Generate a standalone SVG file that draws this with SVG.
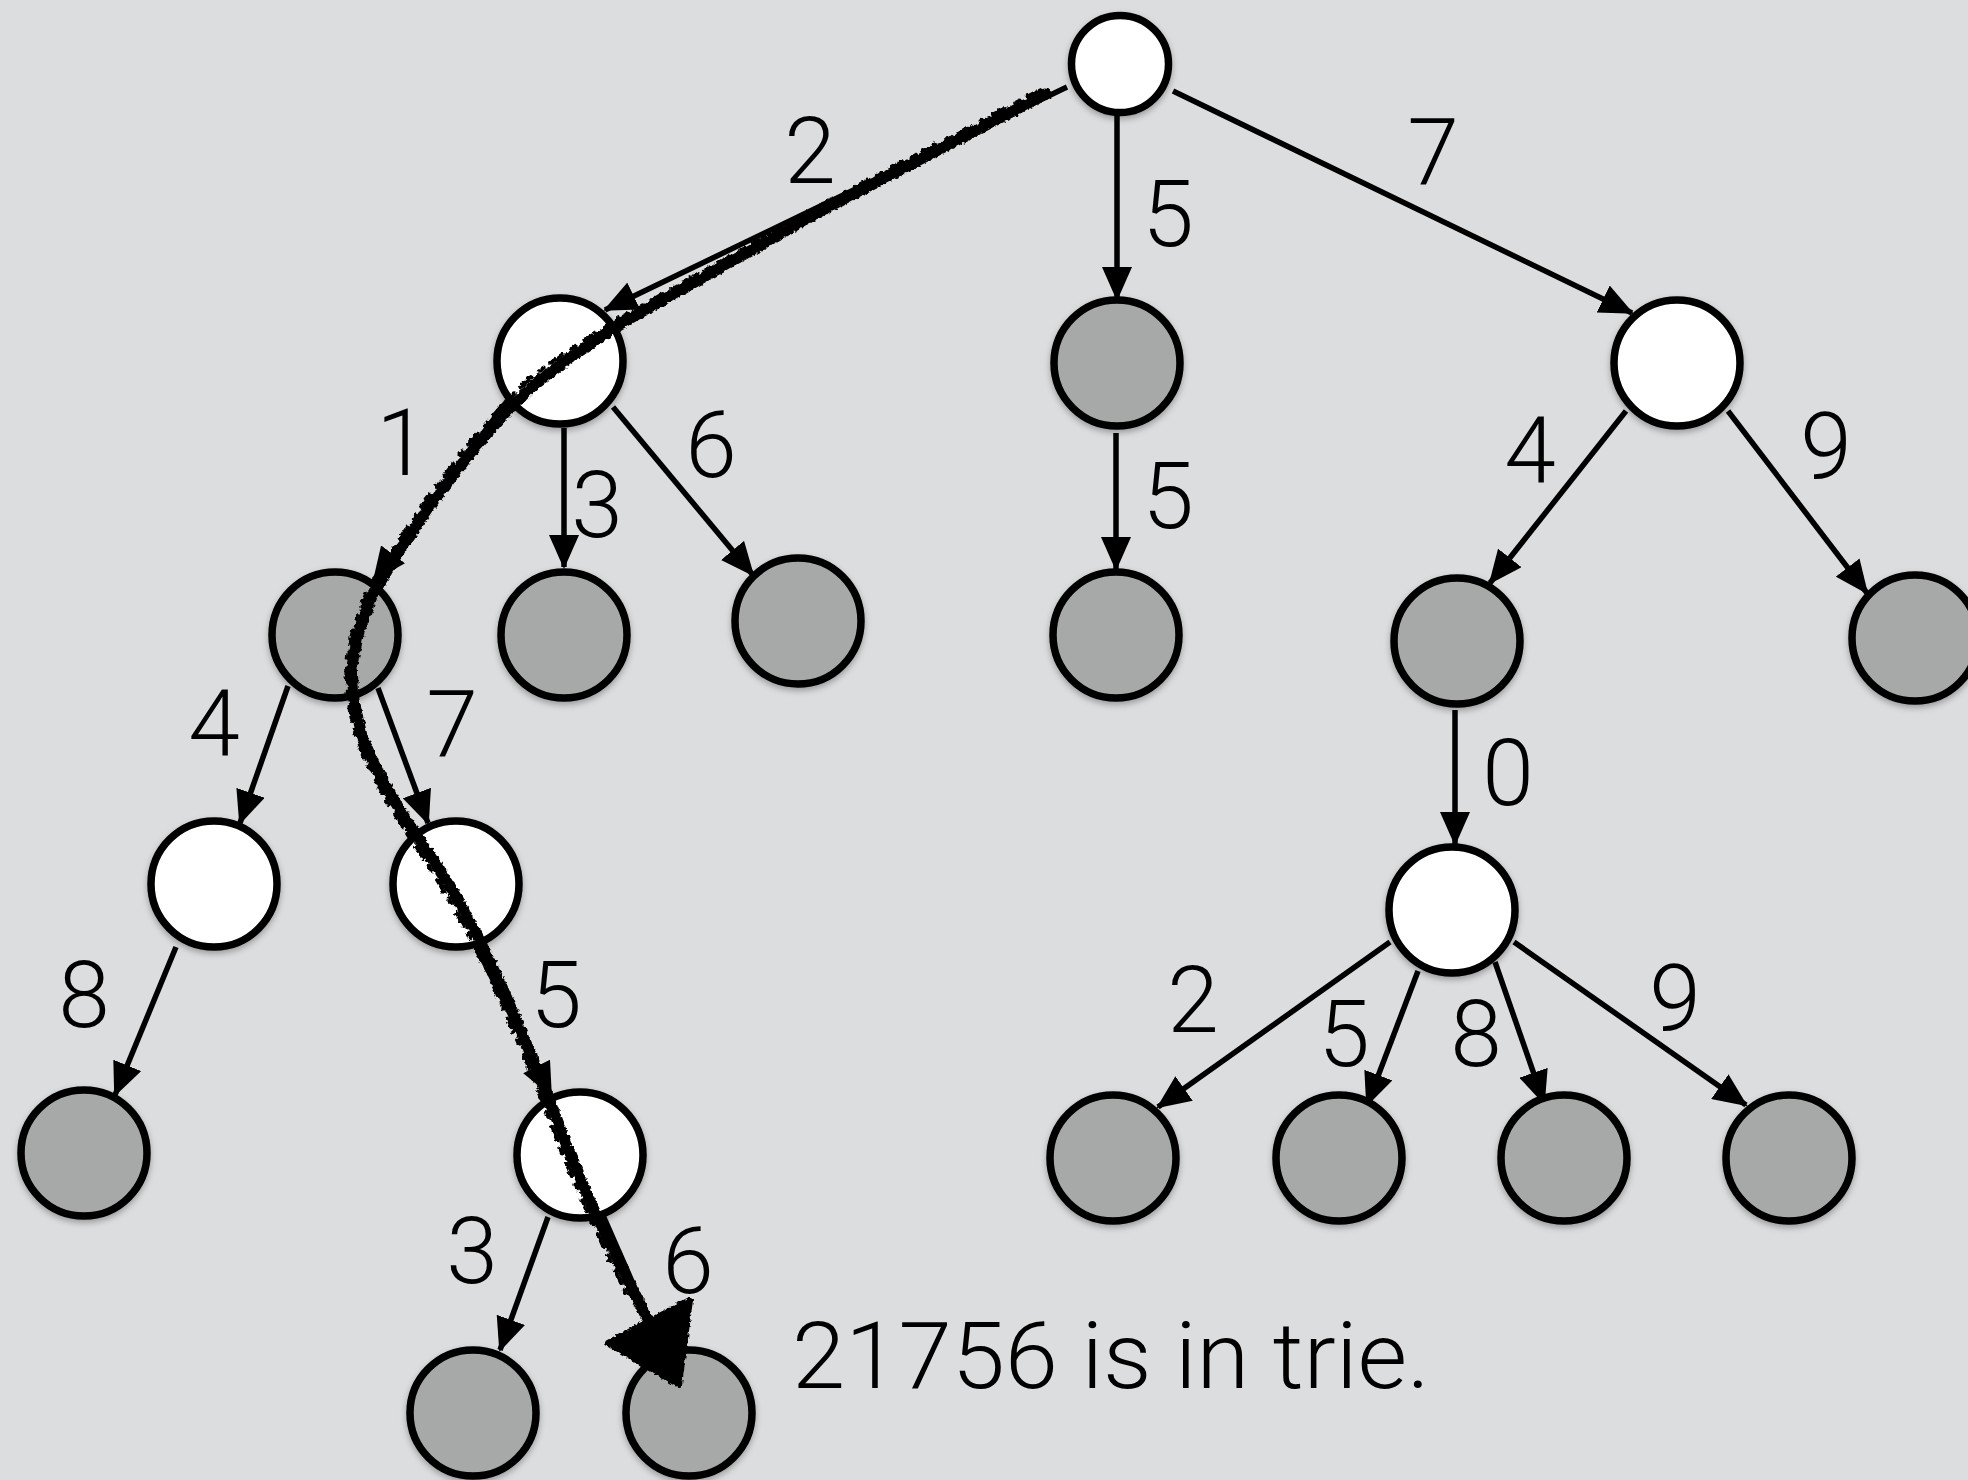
<svg xmlns="http://www.w3.org/2000/svg" width="1968" height="1480" viewBox="0 0 1968 1480">
<defs>
<style>
.node{stroke:#000;stroke-width:7.5;filter:url(#shadow)}
.w{fill:#fff}
.g{fill:#a6a9a8}
.edge{stroke:#000;stroke-width:5.5;fill:none;marker-end:url(#arrow)}
.lbl{font-family:Roboto,"Liberation Sans",sans-serif;font-weight:300;font-size:93px;fill:#000;text-anchor:middle}
.cap{font-family:Roboto,"Liberation Sans",sans-serif;font-weight:300;font-size:93px;fill:#000}
.scrib{stroke:#000;fill:none;stroke-linejoin:round;stroke-linecap:round;filter:url(#rough)}
</style>
<marker id="arrow" viewBox="0 0 34 30" refX="32" refY="15" markerWidth="34" markerHeight="30" orient="auto" markerUnits="userSpaceOnUse">
<path d="M0,0 L34,15 L0,30 z" fill="#000"/>
</marker>
<filter id="shadow" x="-30%" y="-30%" width="160%" height="170%">
<feDropShadow dx="0" dy="3" stdDeviation="3" flood-color="#000" flood-opacity="0.3"/>
</filter>
<filter id="rough" x="-10%" y="-10%" width="120%" height="120%">
<feTurbulence type="fractalNoise" baseFrequency="0.25" numOctaves="2" seed="5" result="n"/>
<feDisplacementMap in="SourceGraphic" in2="n" scale="5" xChannelSelector="R" yChannelSelector="G"/>
</filter>
</defs>
<rect width="1968" height="1480" fill="#dcdddf"/>

<g id="connectors">
<path class="edge" d="M1067,87 L605,310"/>
<path class="edge" d="M1117,116 L1117,299"/>
<path class="edge" d="M1173,91 L1632,313"/>
<path class="edge" d="M508,400 L374,580"/>
<path class="edge" d="M564,428 L564,567"/>
<path class="edge" d="M613,407 L753,575"/>
<path class="edge" d="M1116,433 L1116,569"/>
<path class="edge" d="M1626,411 L1490,583"/>
<path class="edge" d="M1728,411 L1867,593"/>
<path class="edge" d="M288,686 L240,823"/>
<path class="edge" d="M378,688 L428,823"/>
<path class="edge" d="M1455,710 L1455,844"/>
<path class="edge" d="M176,947 L115,1095"/>
<path class="edge" d="M477,948 L551,1095"/>
<path class="edge" d="M1390,942 L1158,1107"/>
<path class="edge" d="M1418,971 L1367,1105"/>
<path class="edge" d="M1495,962 L1544,1103"/>
<path class="edge" d="M1514,942 L1746,1105"/>
<path class="edge" d="M548,1217 L500,1350"/>
<path class="edge" d="M602,1213 L663,1352"/>
</g>

<g id="edge-labels">
<text class="lbl" x="810" y="183">2</text>
<text class="lbl" x="1168" y="246">5</text>
<text class="lbl" x="1433" y="184">7</text>
<text class="lbl" x="402" y="475">1</text>
<text class="lbl" x="597" y="537">3</text>
<text class="lbl" x="711" y="477">6</text>
<text class="lbl" x="1168" y="528">5</text>
<text class="lbl" x="1530" y="483">4</text>
<text class="lbl" x="1826" y="479">9</text>
<text class="lbl" x="214" y="756">4</text>
<text class="lbl" x="452" y="756">7</text>
<text class="lbl" x="1508" y="805">0</text>
<text class="lbl" x="84" y="1027">8</text>
<text class="lbl" x="556" y="1027">5</text>
<text class="lbl" x="1193" y="1032">2</text>
<text class="lbl" x="1344" y="1066">5</text>
<text class="lbl" x="1476" y="1066">8</text>
<text class="lbl" x="1675" y="1031">9</text>
<text class="lbl" x="472" y="1283">3</text>
<text class="lbl" x="688" y="1293">6</text>
</g>

<g id="node-root"><circle class="node w" cx="1120" cy="64" r="48.5"/></g>
<g id="node-2"><circle class="node w" cx="560" cy="361" r="63"/></g>
<g id="node-5"><circle class="node g" cx="1117" cy="363" r="63"/></g>
<g id="node-7"><circle class="node w" cx="1677" cy="363" r="63"/></g>
<g id="node-21"><circle class="node g" cx="335" cy="635" r="63"/></g>
<g id="node-23"><circle class="node g" cx="564" cy="635" r="63"/></g>
<g id="node-26"><circle class="node g" cx="798" cy="621" r="63"/></g>
<g id="node-55"><circle class="node g" cx="1116" cy="635" r="63"/></g>
<g id="node-74"><circle class="node g" cx="1457" cy="641" r="63"/></g>
<g id="node-79"><circle class="node g" cx="1915" cy="638" r="63"/></g>
<g id="node-214"><circle class="node w" cx="214" cy="884" r="63"/></g>
<g id="node-217"><circle class="node w" cx="456" cy="884" r="63"/></g>
<g id="node-740"><circle class="node w" cx="1452" cy="910" r="63"/></g>
<g id="node-2148"><circle class="node g" cx="84" cy="1153" r="63"/></g>
<g id="node-2175"><circle class="node w" cx="580" cy="1155" r="63"/></g>
<g id="node-7402"><circle class="node g" cx="1113" cy="1158" r="63"/></g>
<g id="node-7405"><circle class="node g" cx="1339" cy="1158" r="63"/></g>
<g id="node-7408"><circle class="node g" cx="1564" cy="1158" r="63"/></g>
<g id="node-7409"><circle class="node g" cx="1789" cy="1158" r="63"/></g>
<g id="node-21753"><circle class="node g" cx="473" cy="1413" r="63"/></g>
<g id="node-21756"><circle class="node g" cx="689" cy="1413" r="63"/></g>

<g id="search-path">
<path class="scrib" stroke-width="11" d="M1046,94 L830,206 L615,327 L570,358 L537,382 L505,413 L472,451 L432,503 L398,553 L372,596 L359,631 L352,666 L354,701 L362,736 L375,766 L392,797 L412,829 L435,863 L458,900 L480,941 L502,987 L521,1031 L537,1069 L552,1107 L568,1149 L590,1201 L612,1248 L632,1289 L648,1320"/>
<path class="scrib" stroke-width="4" stroke-dasharray="14 9 5 11" d="M1040,90 L830,200 L620,318 L566,352 L532,376 L500,408 L466,447 L426,500 L392,551 L366,594 L353,630 L346,666 L348,701 L356,736 L369,768 L386,800 L406,832 L429,867 L452,904 L474,945 L496,991 L515,1035 L531,1073 L546,1111 L562,1153 L584,1205 L606,1252 L626,1293"/>
<polygon points="608,1343 690,1300 679,1385" fill="#000" stroke="#000" stroke-width="6" stroke-linejoin="round" filter="url(#rough)"/>
</g>

<text class="cap" x="792" y="1388" textLength="638" lengthAdjust="spacingAndGlyphs">21756 is in trie.</text>
</svg>
